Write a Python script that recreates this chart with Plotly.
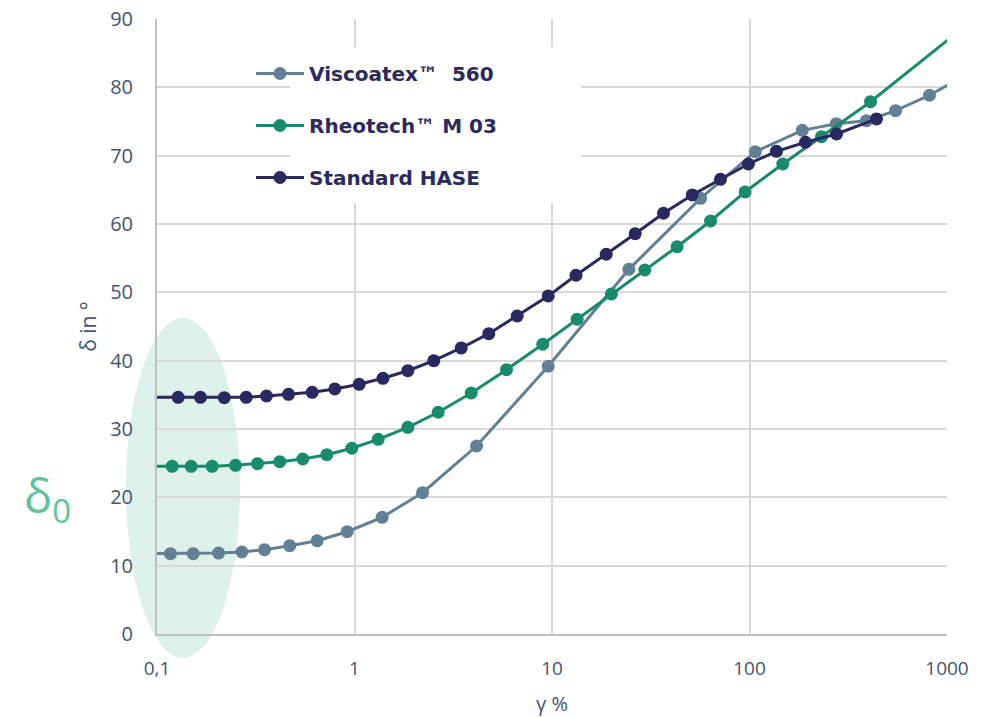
import plotly.graph_objects as go

# ---- data ----
visco_x = [0.09, 0.117, 0.1525, 0.205, 0.269, 0.350, 0.470, 0.647, 0.918, 1.38, 2.21, 4.15, 9.57,
           24.5, 56.5, 107, 185, 275, 391, 549, 815, 1210]
visco_y = [11.75, 11.75, 11.75, 11.85, 12.0, 12.34, 12.92, 13.65, 14.97, 17.08, 20.68, 27.51, 39.18,
           53.37, 63.76, 70.58, 73.71, 74.68, 75.12, 76.58, 78.84, 81.6]

rheo_x = [0.09, 0.1194, 0.149, 0.1903, 0.2497, 0.3227, 0.4185, 0.5472, 0.724, 0.969, 1.318, 1.862,
          2.654, 3.90, 5.885, 8.98, 13.4, 20.0, 29.5, 43.0, 63.5, 95.0, 147.4, 231.5, 410.1, 1170]
rheo_y = [24.54, 24.54, 24.54, 24.54, 24.69, 24.92, 25.22, 25.61, 26.24, 27.18, 28.49, 30.25,
          32.45, 35.27, 38.68, 42.40, 46.07, 49.76, 53.27, 56.68, 60.44, 64.69, 68.78, 72.78, 77.90, 88.4]

hase_x = [0.09, 0.128, 0.166, 0.219, 0.2829, 0.3584, 0.4633, 0.6107, 0.795, 1.056, 1.394, 1.862,
          2.52, 3.47, 4.786, 6.665, 9.57, 13.23, 18.81, 26.38, 36.69, 51.3, 71.3, 98.8, 136.9,
          192.1, 275.8, 439.5]
hase_y = [34.64, 34.64, 34.64, 34.58, 34.64, 34.83, 35.08, 35.37, 35.86, 36.54, 37.42, 38.53,
          40.0, 41.86, 43.95, 46.54, 49.47, 52.5, 55.57, 58.58, 61.57, 64.25, 66.54, 68.78, 70.64,
          71.96, 73.17, 75.37]

series_names = ["Viscoatex\u2122  560", "Rheotech\u2122 M 03", "Standard HASE"]
series_colors = ["#628094", "#188C6A", "#29285F"]

x_tickvals = [0.1, 1, 10, 100, 1000]
x_ticktext = ["0,1", "1", "10", "100", "1000"]
y_tickvals = [0, 10, 20, 30, 40, 50, 60, 70, 80, 90]

TICK = "#44546A"
FONT = "Open Sans, sans-serif"

fig = go.Figure()
for i, (xs, ys) in enumerate([(visco_x, visco_y), (rheo_x, rheo_y), (hase_x, hase_y)]):
    fig.add_trace(go.Scatter(
        x=xs, y=ys, mode="lines+markers", name=series_names[i],
        legendgroup="g%d" % i,
        line=dict(color=series_colors[i], width=3),
        marker=dict(color=series_colors[i], size=13),
    ))

L, R, T, B = 157, 48, 19, 83
W, H = 995, 717
pw, ph = W - L - R, H - T - B

def px(xp):
    return (xp - L) / pw

def py(yp):
    return (H - B - yp) / ph

# ellipse highlighting delta_0
fig.add_shape(type="circle", xref="paper", yref="paper",
              x0=px(126), x1=px(240), y0=py(658), y1=py(318),
              fillcolor="#DDF1EA", line=dict(width=0), layer="below")
# white legend box hiding the grid
fig.add_shape(type="rect", xref="paper", yref="paper",
              x0=px(290), x1=px(581), y0=py(203), y1=py(47),
              fillcolor="white", line=dict(width=0), layer="above")

fig.add_annotation(text="\u03b4<sub>0</sub>", xref="paper", yref="paper",
                   x=px(47), y=py(498), xanchor="center", yanchor="middle", showarrow=False,
                   font=dict(family=FONT, size=47, color="#5CC497"))

fig.update_layout(
    width=W, height=H,
    margin=dict(l=L, r=R, t=T, b=B, pad=0, autoexpand=False),
    paper_bgcolor="white", plot_bgcolor="rgba(0,0,0,0)",
    showlegend=True,
    legend=dict(
        x=px(251), y=py(54), xanchor="left", yanchor="top",
        bgcolor="rgba(0,0,0,0)", borderwidth=0,
        itemwidth=48, tracegroupgap=23, traceorder="grouped",
        font=dict(family="DejaVu Sans, sans-serif", size=20, color="#2B2A5F", weight="bold"),
    ),
    xaxis=dict(
        type="log", range=[-1, 3], tickvals=x_tickvals, ticktext=x_ticktext,
        automargin=False,
        showgrid=True, gridcolor="#D9D9D9", gridwidth=2,
        showline=True, linecolor="#BFBFBF", linewidth=2,
        ticks="", ticklabelstandoff=16,
        tickfont=dict(family=FONT, size=19, color=TICK),
        title=dict(text="\u03b3 %", standoff=18, font=dict(family=FONT, size=20, color=TICK)),
    ),
    yaxis=dict(
        range=[0, 90], tickvals=y_tickvals,
        automargin=False,
        showgrid=True, gridcolor="#D9D9D9", gridwidth=2,
        showline=True, linecolor="#BFBFBF", linewidth=2, zeroline=False,
        ticks="", ticklabelstandoff=18,
        tickfont=dict(family=FONT, size=20, color=TICK),
        title=dict(text="\u03b4 in \u00b0", standoff=8, font=dict(family=FONT, size=21, color=TICK)),
    ),
)

fig.write_html("out.html")
